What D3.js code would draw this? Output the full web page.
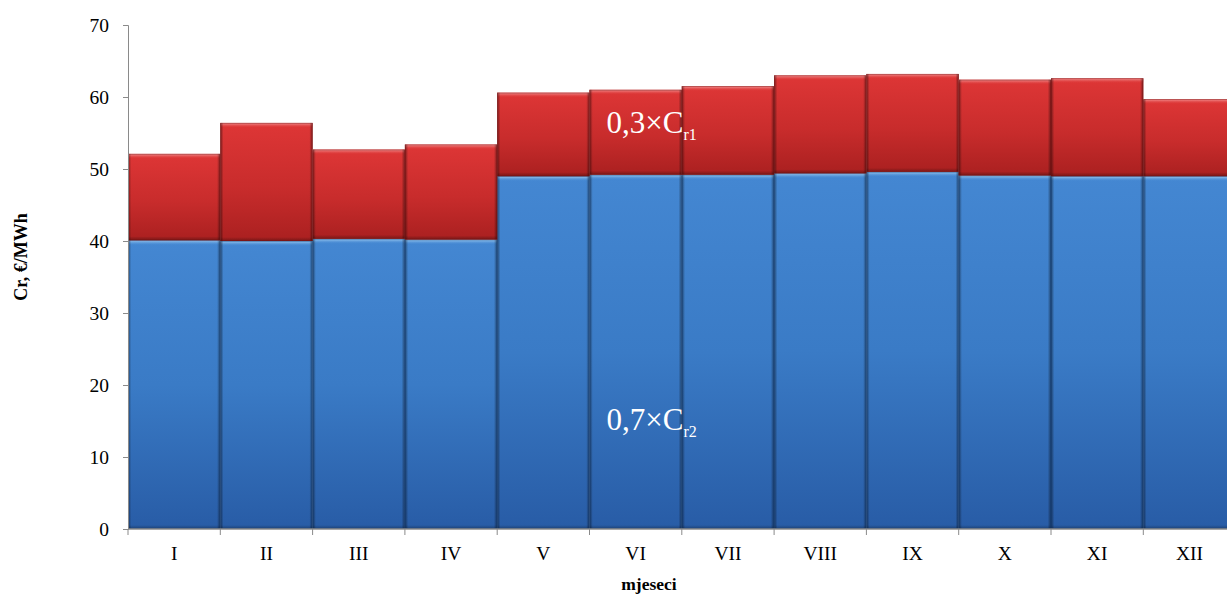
<!DOCTYPE html>
<html>
<head>
<meta charset="utf-8">
<script src="https://cdn.jsdelivr.net/npm/d3@7/dist/d3.min.js"></script>
<style>
  html, body { margin: 0; padding: 0; background: #fff; overflow: hidden; }
  svg { display: block; }
  svg text { font-family: "Liberation Serif", "DejaVu Serif", serif !important; }
</style>
</head>
<body>
<svg id="chart" width="1227" height="596"></svg>
<script>
// Monthly price components, €/MWh
const months = ["I", "II", "III", "IV", "V", "VI", "VII", "VIII", "IX", "X", "XI", "XII"];
const partCr2 = [40.1, 40.0, 40.3, 40.2, 49.0, 49.2, 49.2, 49.4, 49.6, 49.1, 49.0, 49.0]; // 0,7×Cr2
const partCr1 = [12.0, 16.4, 12.4, 13.2, 11.6, 11.8, 12.3, 13.6, 13.6, 13.3, 13.6, 10.7]; // 0,3×Cr1
const yTicks = [0, 10, 20, 30, 40, 50, 60, 70];

const serif = "'Liberation Serif', 'DejaVu Serif', serif";
const svg = d3.select("#chart").attr("font-family", serif);
const x0 = 128, bandW = 92.3;
const x = d3.scaleBand().domain(months).range([x0, x0 + bandW * months.length]).padding(0);
const y = d3.scaleLinear().domain([0, 70]).range([529, 25]);

const rows = months.map((m, i) => ({ month: m, cr2: partCr2[i], cr1: partCr1[i] }));
const stack = d3.stack().keys(["cr2", "cr1"]);
const layers = stack(rows);

// Gradients for the bevelled bar look
const defs = svg.append("defs");
function vGrad(id, stops) {
  const g = defs.append("linearGradient").attr("id", id).attr("x1", 0).attr("y1", 0).attr("x2", 0).attr("y2", 1);
  stops.forEach(s => g.append("stop").attr("offset", s[0]).attr("stop-color", s[1]).attr("stop-opacity", s[2] == null ? 1 : s[2]));
}
function hGrad(id, stops) {
  const g = defs.append("linearGradient").attr("id", id).attr("x1", 0).attr("y1", 0).attr("x2", 1).attr("y2", 0);
  stops.forEach(s => g.append("stop").attr("offset", s[0]).attr("stop-color", s[1]).attr("stop-opacity", s[2] == null ? 1 : s[2]));
}
vGrad("g-cr2", [[0, "#4487d2"], [0.5, "#3a7bc6"], [1, "#285ca6"]]);
vGrad("g-cr1", [[0, "#de3636"], [0.55, "#c82c2c"], [1, "#aa2020"]]);
vGrad("top-cr2", [[0, "#a4d0f4"], [1, "#4a8dd4", 0]]);
vGrad("top-cr1", [[0, "#f49a9a"], [1, "#dc3434", 0]]);
hGrad("sides", [[0, "#000", 0.45], [0.035, "#000", 0.0], [0.965, "#000", 0.0], [1, "#000", 0.45]]);
vGrad("bottom", [[0, "#000", 0], [1, "#000", 0.3]]);

const bars = svg.append("g");
layers.forEach(layer => {
  const key = layer.key;
  const g = bars.append("g");
  const seg = g.selectAll("g").data(layer).join("g")
    .attr("transform", d => `translate(${x(d.data.month)},${y(d[1])})`);
  seg.append("rect")
    .attr("width", x.bandwidth())
    .attr("height", d => y(d[0]) - y(d[1]))
    .attr("fill", `url(#g-${key})`);
  seg.append("rect")
    .attr("width", x.bandwidth())
    .attr("height", 5)
    .attr("fill", `url(#top-${key})`);
  seg.append("rect")
    .attr("width", x.bandwidth())
    .attr("height", d => y(d[0]) - y(d[1]))
    .attr("fill", "url(#sides)");
  seg.append("rect")
    .attr("y", d => y(d[0]) - y(d[1]) - 4)
    .attr("width", x.bandwidth())
    .attr("height", 4)
    .attr("fill", "url(#bottom)");
  seg.append("rect")
    .attr("x", 0.4).attr("y", 0.4)
    .attr("width", x.bandwidth() - 0.8)
    .attr("height", d => y(d[0]) - y(d[1]) - 0.8)
    .attr("fill", "none")
    .attr("stroke", key === "cr1" ? "#7a1414" : "#16427a")
    .attr("stroke-opacity", 0.55)
    .attr("stroke-width", 0.8);
});

// Axes
const axisColor = "#8a8a8a";
const yAxis = svg.append("g").attr("transform", `translate(${x0},0)`)
  .call(d3.axisLeft(y).tickValues(yTicks).tickSize(5).tickPadding(14).tickFormat(d3.format("d")))
  .attr("font-family", serif).attr("font-size", 19.5);
yAxis.select(".domain").attr("stroke", axisColor);
yAxis.selectAll(".tick line").attr("stroke", axisColor);
yAxis.selectAll(".tick text").attr("fill", "#000");

const xAxisG = svg.append("g").attr("transform", `translate(0,${y(0)})`);
xAxisG.append("line").attr("x1", x0).attr("x2", x0 + bandW * months.length)
  .attr("stroke", axisColor).attr("stroke-width", 1.5);
const bounds = months.map(m => x(m)).concat([x0 + bandW * months.length]);
xAxisG.selectAll("line.tk").data(bounds).join("line").attr("class", "tk")
  .attr("x1", d => d).attr("x2", d => d).attr("y1", 0).attr("y2", 6)
  .attr("stroke", axisColor);
xAxisG.selectAll("text").data(months).join("text")
  .attr("x", d => x(d) + x.bandwidth() / 2)
  .attr("y", 31)
  .attr("text-anchor", "middle")
  .attr("font-size", 19.5)
  .attr("fill", "#000")
  .text(d => d);

// Axis titles
svg.append("text")
  .attr("transform", `translate(27,257) rotate(-90)`)
  .attr("text-anchor", "middle")
  .attr("font-size", 18).attr("font-weight", "bold")
  .text("Cr, €/MWh");
svg.append("text")
  .attr("x", 649).attr("y", 590)
  .attr("text-anchor", "middle")
  .attr("font-size", 17.5).attr("font-weight", "bold")
  .text("mjeseci");

// Component labels inside the bars
function compLabel(main, sub, month, value) {
  const t = svg.append("text")
    .attr("x", x(month) + 17).attr("y", y(value))
    .attr("fill", "#fff").attr("font-size", 31);
  t.append("tspan").text(main);
  t.append("tspan").attr("font-size", 16).attr("dy", 7).text(sub);
}
compLabel("0,3×C", "r1", "VI", 55.0);
compLabel("0,7×C", "r2", "VI", 13.8);
</script>
</body>
</html>
